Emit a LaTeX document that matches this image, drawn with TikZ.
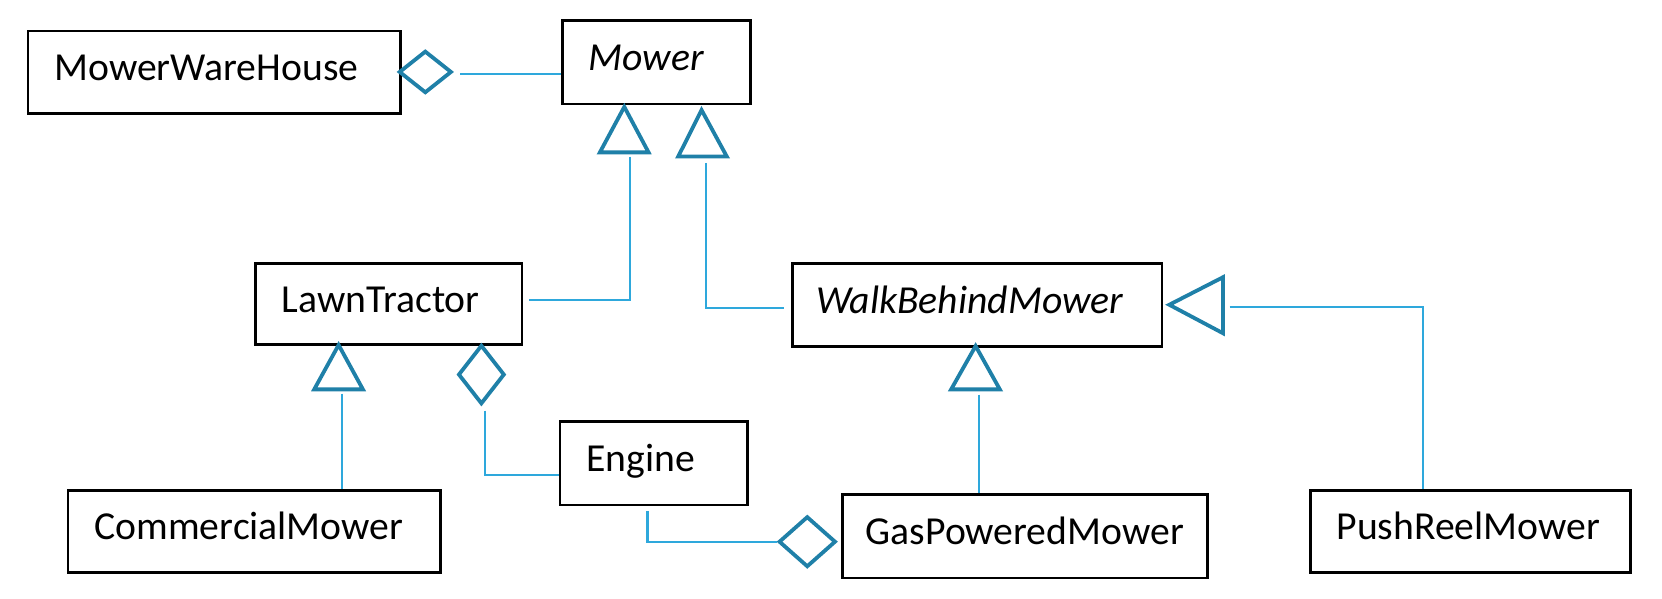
\documentclass[tikz,border=0pt]{standalone}
\usepackage{fontspec}
\setmainfont{Carlito}
\usetikzlibrary{shapes.geometric,calc}
\definecolor{connblue}{HTML}{2EA8DC}
\definecolor{headblue}{HTML}{1F80A8}
\tikzset{
  umlbox/.style={draw=black, line width=2.7pt, anchor=north west, align=left,
    inner xsep=25pt, inner ysep=0pt, font=\fontsize{37.5}{40}\selectfont,
    text height=24pt, text depth=8pt},
  conn/.style={draw=connblue, line width=2.1pt},
  headtri/.style={draw=headblue, line width=3.8pt, line join=miter},
  agg/.style={diamond, draw=headblue, line width=3.8pt, inner sep=0pt, minimum width=#1},
}
\begin{document}
\begin{tikzpicture}[x=1pt,y=-1pt]
\useasboundingbox (0,0) rectangle (1662,598);
\begin{scope}[scale=1.058, transform shape]
% boxes
\node[umlbox, minimum width=352, minimum height=78, text width=302] (mww) at (25,28) {MowerWareHouse};
\node[umlbox, minimum width=178, minimum height=79, text width=128] (mower) at (530,18) {\itshape Mower};
\node[umlbox, minimum width=252, minimum height=76, text width=202] (lt) at (240,248) {LawnTractor};
\node[umlbox, minimum width=349, minimum height=78, text width=305, inner xsep=22pt] (wbm) at (748,248) {\itshape WalkBehindMower};
\node[umlbox, minimum width=177, minimum height=79, text width=127] (eng) at (528,397) {Engine};
\node[umlbox, minimum width=352, minimum height=78, text width=302] (cm) at (63,462) {CommercialMower};
\node[umlbox, minimum width=345, minimum height=79, text width=301, inner xsep=22pt] (gas) at (795,466) {GasPoweredMower};
\node[umlbox, minimum width=303, minimum height=78, text width=253] (prm) at (1237,462) {PushReelMower};
% aggregation diamonds
\node[agg=50pt, minimum height=40pt] (d1) at (402,68) {};
\node[agg=44pt, minimum height=56pt] (d2) at (455,354) {};
\node[agg=54pt, minimum height=48pt] (d3) at (763,512) {};
% generalization triangles
\coordinate (t1a) at (590,101); \coordinate (t1b) at (595,148);
\draw[headtri] (t1a) -- (613,144) -- (567,144) -- cycle;
\coordinate (t2a) at (663,104); \coordinate (t2b) at (667,154);
\draw[headtri] (t2a) -- (687,148) -- (641,148) -- cycle;
\coordinate (t3a) at (1105,288); \coordinate (t3b) at (1162,290);
\draw[headtri] (t3a) -- (1156,262) -- (1156,315) -- cycle;
\coordinate (t4a) at (922,327); \coordinate (t4b) at (925,373);
\draw[headtri] (t4a) -- (945,368) -- (899,368) -- cycle;
\coordinate (t5a) at (320,326); \coordinate (t5b) at (323,372);
\draw[headtri] (t5a) -- (343,368) -- (297,368) -- cycle;
% connectors
\coordinate (d1e) at ($(d1.east)+(6,2)$);
\draw[conn] (d1e) -- (d1e -| mower.west);
\draw[conn] (t1b) |- ($(lt.east)+(5,-4)$);
\draw[conn] (t2b) |- ($(wbm.west)+(-7,3)$);
\draw[conn] (t3b) -| ($(prm.north west)+(108,0)$);
\draw[conn] (t4b) -- (t4b |- gas.north);
\draw[conn] (t5b) -- (t5b |- cm.north);
\coordinate (d2s) at ($(d2.south)+(3,4)$);
\draw[conn] (d2s) |- ($(eng.west)+(0,11)$);
\coordinate (engs) at ($(eng.south)+(-6,4)$);
\draw[conn] (engs) |- (d3.west);
\end{scope}
\end{tikzpicture}
\end{document}
